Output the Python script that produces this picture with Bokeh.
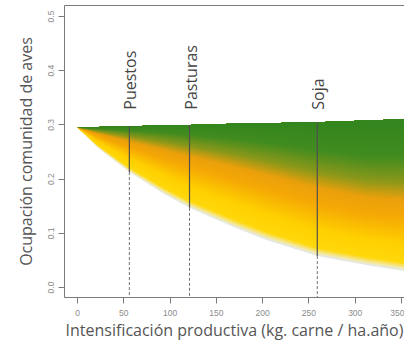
import numpy as np
from bokeh.plotting import figure
from bokeh.models import FixedTicker, LinearAxis, Range1d, ColumnDataSource
from bokeh.core.properties import value
from bokeh.embed import file_html
from bokeh.resources import INLINE

# ---------------- data ----------------
curve_x = [0, 22, 56, 94, 121, 169, 205, 259, 313, 362]
curve_top = [0.295, 0.296, 0.2975, 0.299, 0.300, 0.302, 0.303, 0.305, 0.308, 0.311]
curve_bottom = [0.295, 0.258, 0.213, 0.172, 0.147, 0.111, 0.087, 0.058, 0.041, 0.028]

markers = ["Puestos", "Pasturas", "Soja"]
marker_x = [56, 121, 259]
marker_top = [0.2975, 0.300, 0.305]
marker_bottom = [0.213, 0.147, 0.058]
marker_label_y = [0.328, 0.328, 0.328]

x_ticks = [0, 50, 100, 150, 200, 250, 300, 350]
x_tick_labels = ["0", "50", "100", "150", "200", "250", "300", "350"]
y_ticks = [0.0, 0.1, 0.2, 0.3, 0.4, 0.5]
y_tick_labels = ["0.0", "0.1", "0.2", "0.3", "0.4", "0.5"]

x_title = "Intensificación productiva (kg. carne / ha.año)"
y_title = "Ocupación comunidad de aves"

# ---------------- styling ----------------
AXIS_COL = "#7a7a7a"
TICK_FONT = "Liberation Sans"
LABEL_FONT = "Open Sans"

y0, y1 = -0.01845, 0.5203
p = figure(width=404, height=344, output_backend="svg", toolbar_location=None,
           x_range=Range1d(-14.04, 353.2), y_range=Range1d(y0, y1),
           min_border_left=64, min_border_right=0, min_border_top=5,
           min_border_bottom=47)
p.grid.visible = False
p.outline_line_color = None
p.background_fill_color = "white"
p.border_fill_color = "white"

# gradient fill built from stacked areas between the top and bottom curves
stops_c = [0.0, 0.2, 0.36, 0.48, 0.6, 0.8, 0.94, 0.985, 1.0]
stops_rgb = [(50, 133, 30), (66, 140, 32), (140, 152, 26), (234, 160, 12),
             (245, 168, 6), (255, 208, 0), (255, 216, 12), (242, 234, 180),
             (228, 232, 230)]


def cmap(c):
    r = np.interp(c, stops_c, [s[0] for s in stops_rgb])
    g = np.interp(c, stops_c, [s[1] for s in stops_rgb])
    b = np.interp(c, stops_c, [s[2] for s in stops_rgb])
    return "#%02x%02x%02x" % (int(round(r)), int(round(g)), int(round(b)))


cx = np.array(curve_x, dtype=float)
ct = np.array(curve_top)
cb = np.array(curve_bottom)
pw = 1.6 - 0.75 * np.minimum(cx / 300.0, 1.0)
levels = np.linspace(0, 1, 101)[1:]
for c in levels[::-1]:
    t = c ** pw
    yb = ct - (ct - cb) * t
    p.varea(x=curve_x, y1=yb, y2=curve_top, fill_color=cmap(c), fill_alpha=1.0)

# marker lines
p.segment(x0=marker_x, y0=marker_top, x1=marker_x, y1=marker_bottom,
          line_color="#505050", line_width=1.2)
p.segment(x0=marker_x, y0=marker_bottom, x1=marker_x, y1=[y0] * len(marker_x),
          line_color="#707070", line_width=1, line_dash="3 2")

src = ColumnDataSource(dict(x=marker_x, y=marker_label_y, t=markers))
p.text(x="x", y="y", text="t", source=src, angle=np.pi / 2,
       text_align="left", text_baseline="middle", x_offset=1,
       text_font=value(LABEL_FONT), text_font_size="16px", text_color="#444444")

# axes
xa = p.xaxis[0]
xa.ticker = FixedTicker(ticks=x_ticks)
xa.major_label_overrides = {k: v for k, v in zip(x_ticks, x_tick_labels)}
ya = p.yaxis[0]
ya.ticker = FixedTicker(ticks=y_ticks)
ya.major_label_overrides = {k: v for k, v in zip(y_ticks, y_tick_labels)}
ya.major_label_orientation = "vertical"

for ax in (xa, ya):
    ax.axis_line_color = AXIS_COL
    ax.major_tick_line_color = AXIS_COL
    ax.minor_tick_line_color = None
    ax.major_tick_in = 0
    ax.major_tick_out = 6
    ax.major_label_text_font = TICK_FONT
    ax.major_label_text_font_size = "8.5px"
    ax.major_label_text_color = "#8c8c8c"
    ax.axis_label_text_font = LABEL_FONT
    ax.axis_label_text_font_size = "16px"
    ax.axis_label_text_font_style = "normal"
    ax.axis_label_text_color = "#555555"

xa.axis_label = x_title
xa.major_label_standoff = 6
xa.axis_label_standoff = 0
ya.axis_label = y_title
ya.major_label_standoff = 4
ya.axis_label_standoff = 9

top_axis = LinearAxis(ticker=FixedTicker(ticks=[]), axis_line_color=AXIS_COL,
                      major_tick_line_color=None, minor_tick_line_color=None,
                      major_tick_out=0, major_tick_in=0, major_label_standoff=0,
                      major_label_text_font_size="0px")
p.add_layout(top_axis, "above")

open("out.html", "w").write(file_html(p, INLINE))
